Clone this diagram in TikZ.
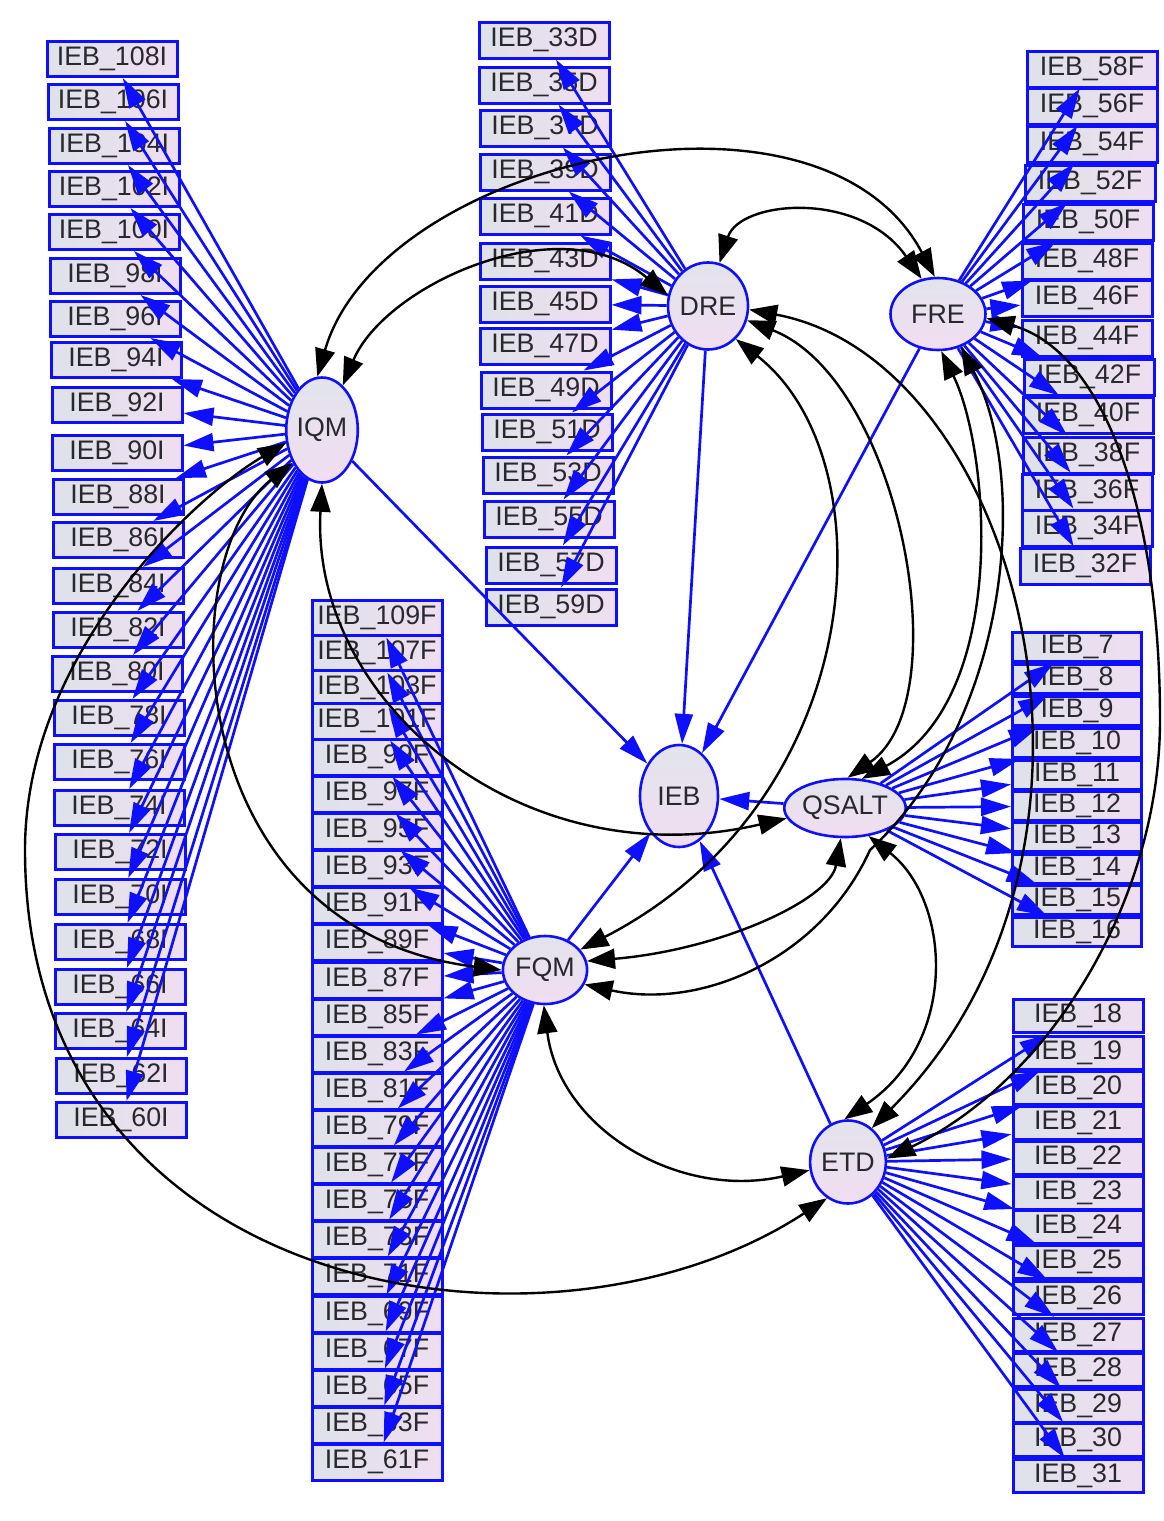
\documentclass[tikz,border=0pt]{standalone}
\usepackage{fontspec}
\setmainfont{Liberation Sans}
\usetikzlibrary{shapes.geometric,arrows.meta}
\definecolor{boxL}{RGB}{222,226,234}
\definecolor{boxR}{RGB}{239,222,241}
\definecolor{latA}{RGB}{226,228,236}
\definecolor{latB}{RGB}{241,221,241}
\definecolor{edgeblue}{RGB}{15,15,255}
\definecolor{txt}{RGB}{40,40,45}
\tikzset{
  ind/.style={draw=edgeblue, line width=1.5pt, left color=boxL, right color=boxR,
    minimum width=65pt, minimum height=17.5pt, inner sep=0pt, text=txt,
    font=\fontsize{13.4}{13}\selectfont},
  lat/.style={ellipse, draw=edgeblue, line width=1.3pt, top color=latA, bottom color=latB,
    inner sep=0pt, text=txt, font=\fontsize{13.4}{13}\selectfont},
  load/.style={edgeblue, line width=1.35pt, -{Triangle[length=15pt,width=9pt]}},
  cov/.style={black, line width=1.2pt,
    {Triangle[length=14pt,width=10pt]}-{Triangle[length=14pt,width=10pt]}},
}
\begin{document}
\begin{tikzpicture}[x=0.5pt,y=-0.5pt]
\useasboundingbox (0,0) rectangle (1163,1521);

% ---------- latent variables ----------
\node[lat, minimum width=34.5pt, minimum height=52.5pt] (IQM) at (322,430) {IQM};
\node[lat, minimum width=38.5pt, minimum height=43.5pt] (DRE) at (708,306) {DRE};
\node[lat, minimum width=47.5pt, minimum height=36pt] (FRE) at (938,314) {FRE};
\node[lat, minimum width=39pt, minimum height=51pt] (IEB) at (679,796) {IEB};
\node[lat, minimum width=45pt, minimum height=29pt] (QSALT) at (845,808) {QSALT};
\node[lat, minimum width=36pt, minimum height=34pt] (FQM) at (545,970) {FQM};
\node[lat, minimum width=34.5pt, minimum height=41.5pt] (ETD) at (848,1162) {ETD};

% ---------- indicator boxes ----------
\foreach \n/\x/\y in {108/112/59, 106/113/102, 104/114/146, 102/114/189, 100/114/232,
  98/115/276, 96/115/319, 94/116/360, 92/117/405, 90/117/453, 88/118/497, 86/118/540,
  84/118/586, 82/118/630, 80/117/674, 78/119/718, 76/119/762, 74/119/808, 72/120/852,
  70/120/897, 68/120/942, 66/120/987, 64/120/1031, 62/121/1076, 60/121/1120}
  \node[ind, minimum height=17.5pt] (I\n) at (\x,\y) {IEB\_\n I};

\foreach \n/\x/\y in {33/544/40, 35/544/85, 37/545/128, 39/545/172, 41/545/216,
  43/545/261, 45/545/304, 47/545/346, 49/546/390, 51/547/432, 53/548/475,
  55/549/519, 57/551/565, 59/551/607}
  \node[ind, minimum height=18pt] (D\n) at (\x,\y) {IEB\_\n D};

\foreach \n/\x/\y in {58/1092/69, 56/1092/106, 54/1092/144, 52/1090/183, 50/1088/222,
  48/1087/261, 46/1087/298, 44/1087/338, 42/1089/377, 40/1088/415, 38/1088/455,
  36/1087/492, 34/1087/528, 32/1085/566}
  \node[ind, minimum height=18pt] (R\n) at (\x,\y) {IEB\_\n F};

\foreach \n/\y in {109/618, 107/653, 103/688, 101/721, 99/757, 97/794, 95/831,
  93/868, 91/905, 89/942, 87/980, 85/1017, 83/1054, 81/1091, 79/1128, 77/1165,
  75/1202, 73/1239, 71/1276, 69/1314, 67/1351, 65/1388, 63/1425, 61/1462}
  \node[ind, minimum height=18pt] (F\n) at (377,\y) {IEB\_\n F};

\foreach \n/\y in {7/647, 8/679, 9/711, 10/743, 11/775, 12/806, 13/837, 14/869,
  15/900, 16/932}
  \node[ind, minimum height=14.5pt, minimum width=64.5pt] (Q\n) at (1077,\y) {IEB\_\n};

\foreach \n/\y in {18/1016, 19/1053, 20/1088, 21/1123, 22/1158, 23/1193, 24/1227,
  25/1262, 26/1298, 27/1335, 28/1370, 29/1406, 30/1440, 31/1476}
  \node[ind, minimum height=16.5pt] (E\n) at (1078,\y) {IEB\_\n};

% ---------- loadings ----------
\foreach \n in {108,106,104,102,100,98,96,94,92,90,88,86,84,82,80,78,76,74,72,70,68,66,64,62,60}
  \draw[load] (IQM) -- (I\n);
\foreach \n in {33,35,37,39,41,43,45,47,49,51,53,55,57,59}
  \draw[load] (DRE) -- (D\n);
\foreach \n in {58,56,54,52,50,48,46,44,42,40,38,36,34,32}
  \draw[load] (FRE) -- (R\n);
\foreach \n in {109,107,103,101,99,97,95,93,91,89,87,85,83,81,79,77,75,73,71,69,67,65,63,61}
  \draw[load] (FQM) -- (F\n);
\foreach \n in {7,8,9,10,11,12,13,14,15,16}
  \draw[load] (QSALT) -- (Q\n);
\foreach \n in {18,19,20,21,22,23,24,25,26,27,28,29,30,31}
  \draw[load] (ETD) -- (E\n);

% ---------- structural paths ----------
\foreach \s in {IQM,DRE,FRE,QSALT,FQM,ETD}
  \draw[load] (\s) -- (IEB);

% ---------- covariances ----------
\draw[cov] (IQM.65) .. controls (385,285) and (560,205) .. (DRE.165);
\draw[cov] (IQM.95) .. controls (380,160) and (820,60) .. (FRE.95);
\draw[cov] (DRE.75) .. controls (740,200) and (860,190) .. (FRE.115);
\draw[cov] (IQM.270) .. controls (310,700) and (520,880) .. (QSALT.190);
\draw[cov] (IQM.228) .. controls (170,560) and (180,930) .. (FQM.180);
\draw[cov] (IQM.200) .. controls (200,493) and (25,650) .. (25,850)
  .. controls (25,1300) and (550,1380) .. (ETD.240);
\draw[cov] (DRE.310) .. controls (890,460) and (870,800) .. (FQM.30);
\draw[cov] (DRE.340) .. controls (900,380) and (960,700) .. (QSALT.85);
\draw[cov] (DRE.355) .. controls (1020,360) and (1150,850) .. (ETD.55);
\draw[cov] (FRE.275) .. controls (990,450) and (1010,700) .. (QSALT.60);
\draw[cov] (FRE.355) .. controls (1100,350) and (1160,500) .. (1160,720)
  .. controls (1160,900) and (1050,1080) .. (ETD.5);
\draw[cov] (FRE.305) .. controls (1030,480) and (1010,720) .. (870,850)
  .. controls (820,960) and (700,1010) .. (FQM.340);
\draw[cov] (QSALT.262) .. controls (830,900) and (720,950) .. (FQM.12);
\draw[cov] (QSALT.310) .. controls (950,900) and (960,1040) .. (ETD.95);
\draw[cov] (FQM.268) .. controls (560,1130) and (680,1200) .. (ETD.192);
\end{tikzpicture}
\end{document}
